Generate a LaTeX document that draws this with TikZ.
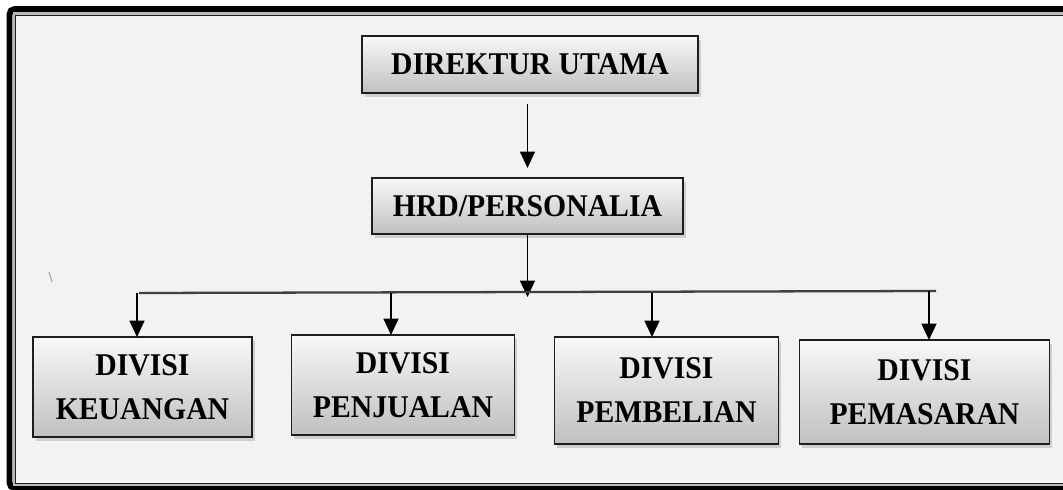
\documentclass[tikz,border=0pt]{standalone}
\usepackage{fontspec}
\setmainfont[FakeStretch=0.94]{Liberation Serif}
\usetikzlibrary{arrows.meta,shadows}
\definecolor{pagegray}{HTML}{F2F2F2}
\definecolor{boxtop}{HTML}{F8F8F8}
\definecolor{boxbot}{HTML}{C0C0C0}
\definecolor{rim}{HTML}{1E1E1E}

\begin{document}
\begin{tikzpicture}[x=0.02cm,y=-0.02cm,
  box/.style={draw=rim, line width=1.1pt, top color=boxtop, bottom color=boxbot,
    inner sep=0pt, outer sep=0pt, align=center,
    font=\bfseries\fontsize{18}{25}\selectfont,
    drop shadow={shadow xshift=1.5pt, shadow yshift=-2.5pt, opacity=0.3}},
  link/.style={black, line width=1pt, -{Triangle[width=0.3cm,length=0.33cm]}}]
  \useasboundingbox (0,0) rectangle (1063,490);
  \fill[white] (0,0) rectangle (1063,490);
  \draw[black, line width=3.4pt, rounded corners=3pt] (9.5,9) rectangle (1090,488);
  \draw[gray!55, line width=1.7pt] (14,13.5) rectangle (1090,485);
  \draw[rim, fill=pagegray, line width=0.7pt] (15.7,15.7) rectangle (1090,483.5);
  \draw[gray!70, line width=0.6pt] (49,272) -- (52,282);
  \node[box, minimum width=6.72cm, minimum height=1.14cm] (dirut) at (530,64.5) {DIREKTUR UTAMA};
  \node[box, minimum width=6.22cm, minimum height=1.12cm] (hrd) at (527.5,206) {HRD/PERSONALIA};
  \node[box, minimum width=4.38cm, minimum height=2cm] (keu) at (142.5,387) {DIVISI\\KEUANGAN};
  \node[box, minimum width=4.46cm, minimum height=2cm] (penj) at (403,385) {DIVISI\\PENJUALAN};
  \node[box, minimum width=4.48cm, minimum height=2.14cm] (pemb) at (666.5,390.5) {DIVISI\\PEMBELIAN};
  \node[box, minimum width=5cm, minimum height=2.08cm] (pemas) at (924.5,392) {DIVISI\\PEMASARAN};
  \coordinate (bus) at (527,292);
  \coordinate (busL) at (139,293);
  \coordinate (busR) at (936,291);
  \coordinate (keuIn) at ([xshift=-0.11cm]keu.north);
  \coordinate (penjIn) at ([xshift=-0.24cm]penj.north);
  \coordinate (pembIn) at ([xshift=-0.29cm]pemb.north);
  \coordinate (pemasIn) at ([xshift=0.09cm]pemas.north);
  \draw[link, shorten <=0.22cm, shorten >=0.2cm] (hrd.north |- dirut.south) -- (hrd.north);
  \draw[link, shorten >=-0.1cm] (hrd.south) -- (hrd.south |- bus);
  \draw[black!75, line width=1.3pt] (busL) -- (busR);
  \draw[link] (keuIn |- busL) -- (keuIn);
  \draw[link] (penjIn |- busL) -- (penjIn);
  \draw[link] (pembIn |- busL) -- (pembIn);
  \draw[link] (pemasIn |- busR) -- (pemasIn);
\end{tikzpicture}
\end{document}
